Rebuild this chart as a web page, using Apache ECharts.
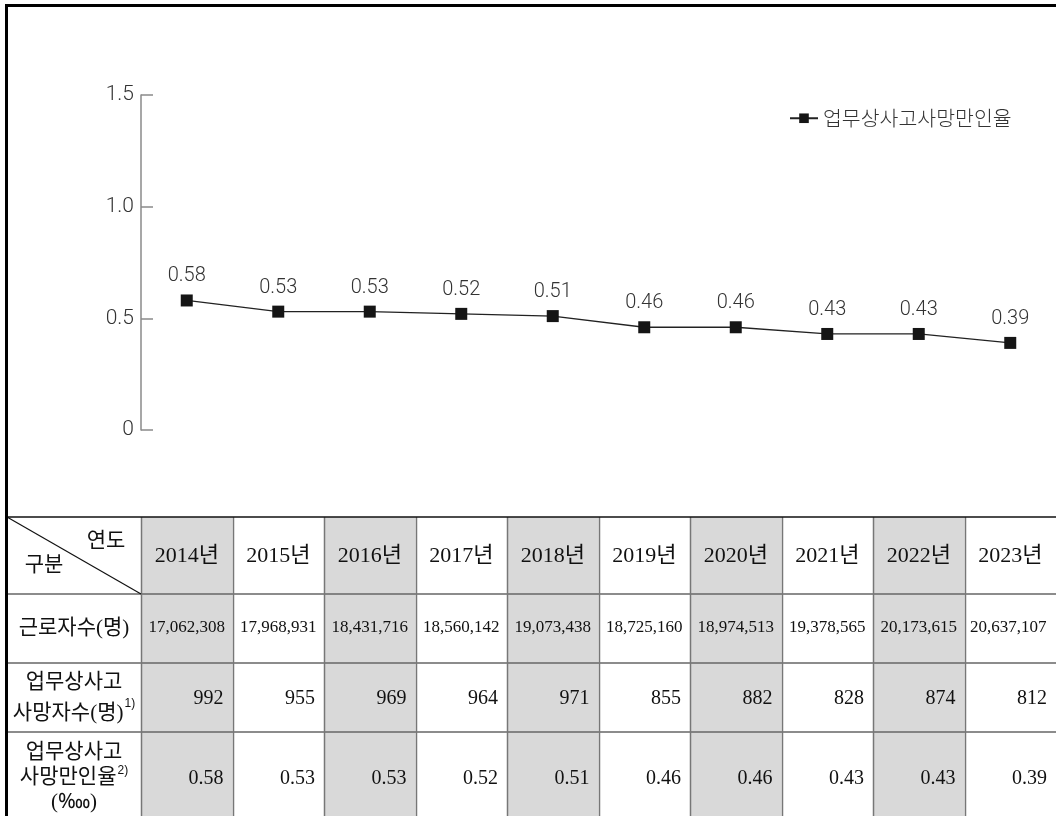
<!DOCTYPE html>
<html><head><meta charset="utf-8">
<script src="https://cdn.jsdelivr.net/npm/echarts@6/dist/echarts.min.js"></script>
<style>html,body{margin:0;padding:0;background:#fff}#c{width:1056px;height:816px}</style>
</head><body><div id="c"></div>
<script>
const years = ['2014','2015','2016','2017','2018','2019','2020','2021','2022','2023'];
const yearLabels = years.map(y => y + '년');
const workers = ['17,062,308','17,968,931','18,431,716','18,560,142','19,073,438','18,725,160','18,974,513','19,378,565','20,173,615','20,637,107'];
const deaths = ['992','955','969','964','971','855','882','828','874','812'];
const rates = [0.58,0.53,0.53,0.52,0.51,0.46,0.46,0.43,0.43,0.39];
const rateLabels = ['0.58','0.53','0.53','0.52','0.51','0.46','0.46','0.43','0.43','0.39'];
const yTickLabels = {0:'0', 0.5:'0.5', 1:'1.0', 1.5:'1.5'};
const seriesName = '업무상사고사망만인율';
const headerCorner = ['연도','구분'];
const rowLabels = ['근로자수(명)', '업무상사고\n사망자수(명){s|1)}', '업무상사고\n사망만인율{s|2)}\n(‱)'];

const chart = echarts.init(document.getElementById('c'));
const sansFont = "Roboto, 'Noto Sans CJK KR', sans-serif";
const tableFont = "'Liberation Serif', 'Noto Sans CJK KR', serif";

chart.setOption({
  animation: false,
  backgroundColor: '#fff',
  grid: { left: 141, right: 0, top: 95, bottom: 386 },
  legend: {
    left: 784, top: 103, itemWidth: 28, itemHeight: 12, itemGap: 8,
    textStyle: { fontFamily: "'Noto Sans CJK KR', sans-serif", fontSize: 20.5, color: '#333', fontWeight: 300 },
    data: [seriesName]
  },
  xAxis: { type: 'category', data: years, boundaryGap: true, show: false },
  yAxis: {
    type: 'value', min: 0, max: 1.5, interval: 0.5,
    axisLine: { show: true, lineStyle: { color: '#8a8a8a', width: 1.5 } },
    axisTick: { show: true, inside: true, length: 12, lineStyle: { color: '#8a8a8a', width: 1.5 } },
    axisLabel: { margin: 7, fontFamily: sansFont, fontWeight: 300, fontSize: 21, color: '#333',
      formatter: v => yTickLabels[v] !== undefined ? yTickLabels[v] : '' },
    splitLine: { show: false }
  },
  series: [{
    name: seriesName, type: 'line', data: rates,
    symbol: 'rect', symbolSize: 12,
    itemStyle: { color: '#151515' },
    lineStyle: { color: '#222', width: 1.3 },
    label: { show: true, position: 'top', distance: 8, fontFamily: sansFont, fontWeight: 300, fontSize: 20, color: '#333',
      formatter: p => rateLabels[p.dataIndex] }
  }]
});

// Table built from the x-axis scale
const centers = years.map((y, i) => chart.convertToPixel({ xAxisIndex: 0 }, i));
const colW = centers[1] - centers[0];
const rowY = [517, 594, 663, 732, 816];
const leftEdge = 7;
const rightEdge = 1056;
const g = [];
centers.forEach((c, i) => {
  if (i % 2 === 0) {
    g.push({ type: 'rect', shape: { x: c - colW / 2, y: rowY[0], width: colW, height: rowY[4] - rowY[0] }, style: { fill: '#d9d9d9' }, z: 1 });
  }
});
for (let r = 1; r < 4; r++) {
  g.push({ type: 'line', shape: { x1: leftEdge, y1: rowY[r], x2: rightEdge, y2: rowY[r] }, style: { stroke: '#666', lineWidth: 1.5 }, z: 3 });
}
g.push({ type: 'line', shape: { x1: leftEdge, y1: rowY[0], x2: rightEdge, y2: rowY[0] }, style: { stroke: '#111', lineWidth: 1.5 }, z: 4 });
centers.forEach((c, i) => {
  const x = Math.round(c - colW / 2) + 0.5;
  g.push({ type: 'line', shape: { x1: x, y1: rowY[0], x2: x, y2: rowY[4] }, style: { stroke: '#777', lineWidth: 1.5 }, z: 3 });
});
g.push({ type: 'line', shape: { x1: leftEdge, y1: rowY[0], x2: centers[0] - colW / 2, y2: rowY[1] }, style: { stroke: '#111', lineWidth: 1.2 }, z: 3 });
const txt = (x, y, text, align, extra) => Object.assign({
  type: 'text', x: x, y: y, z: 5,
  style: Object.assign({ text: text, fontFamily: tableFont, fontSize: 21, fill: '#111', align: align || 'center', verticalAlign: 'middle' }, extra || {})
});
g.push(txt(106, 541, headerCorner[0]));
g.push(txt(44, 565, headerCorner[1]));
const labelX = (leftEdge + centers[0] - colW / 2) / 2;
const sup = { s: { fontSize: 12, verticalAlign: 'top', padding: [0, 0, 10, 1] } };
g.push(txt(labelX, 628, rowLabels[0]));
g.push(txt(labelX, 698, rowLabels[1], 'center', { lineHeight: 31, rich: sup }));
g.push(txt(labelX, 777, rowLabels[2], 'center', { lineHeight: 25, rich: sup }));
centers.forEach((c, i) => {
  const rx = Math.min(c + colW / 2, rightEdge) - 9;
  g.push(txt(c, 556, yearLabels[i], 'center', { fontSize: 22 }));
  g.push(txt(c + (i === 9 ? -2 : 0), 628, workers[i], 'center', { fontSize: 17 }));
  g.push(txt(rx, 699, deaths[i], 'right', { fontSize: 20 }));
  g.push(txt(rx, 779, rateLabels[i], 'right', { fontSize: 20 }));
});
g.push({ type: 'rect', shape: { x: 5, y: 4, width: 1051, height: 3 }, style: { fill: '#000' }, z: 6 });
g.push({ type: 'rect', shape: { x: 5, y: 4, width: 3, height: 812 }, style: { fill: '#000' }, z: 6 });

chart.setOption({ graphic: g });
</script>
</body></html>
